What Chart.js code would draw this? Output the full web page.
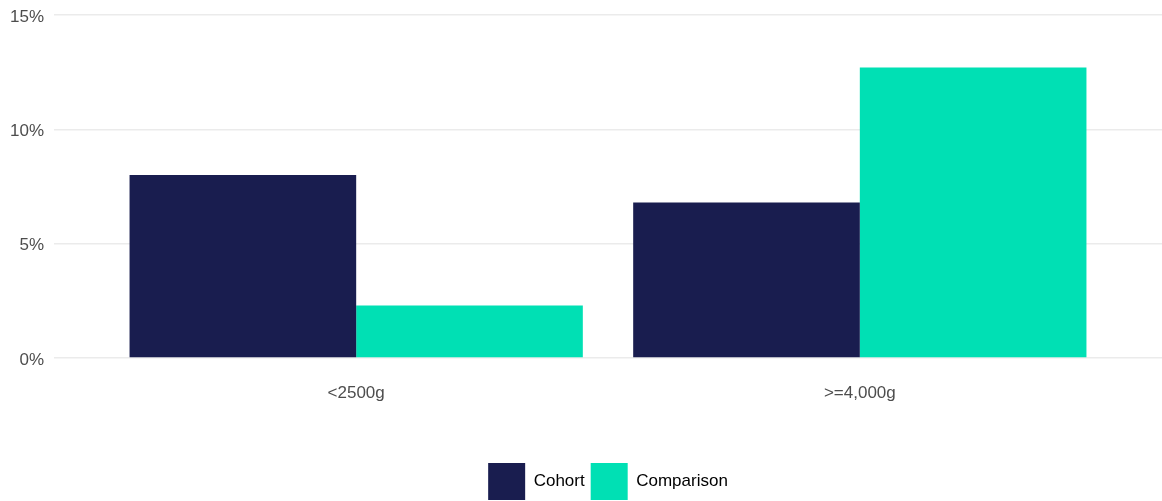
<!DOCTYPE html>
<html>
<head>
<meta charset="utf-8">
<script src="https://cdn.jsdelivr.net/npm/chart.js@4/dist/chart.umd.min.js"></script>
<style>
  html, body { margin: 0; padding: 0; background: #fff; }
  #wrap { width: 1162px; height: 501px; }
</style>
</head>
<body>
<div id="wrap"><canvas id="chart"></canvas></div>
<script>
const categories = ['<2500g', '>=4,000g'];
const cohortValues = [8.0, 6.8];
const comparisonValues = [2.3, 12.7];
const yTicks = [0, 5, 10, 15];

// categories sit at x = 1, 2 on a linear axis so the panel can have ggplot-like side space
const toPoints = (vals) => vals.map((v, i) => ({ x: i + 1, y: v }));

const tickFont = { family: "'Liberation Sans', Arial, sans-serif", size: 17 };

var ctx = document.getElementById('chart').getContext('2d');
var chart = new Chart(ctx, {
    type: 'bar',
    data: {
        datasets: [{
            label: 'Cohort',
            backgroundColor: '#191d4f',
            data: toPoints(cohortValues),
        }, {
            label: 'Comparison',
            backgroundColor: '#00e0b4',
            data: toPoints(comparisonValues),
        }]
    },
    options: {
        responsive: true,
        maintainAspectRatio: false,
        animation: false,
        categoryPercentage: 0.9,
        barPercentage: 1.0,
        layout: { padding: { top: 15, right: 0, left: 0, bottom: -9 } },
        scales: {
            x: {
                type: 'linear',
                offset: false,
                min: 0.4,
                max: 2.6,
                afterBuildTicks: (scale) => {
                    scale.ticks = categories.map((c, i) => ({ value: i + 1 }));
                },
                afterFit: (scale) => { scale.height = 99; },
                grid: { display: false, drawTicks: false, offset: false },
                border: { display: false },
                ticks: {
                    padding: 25,
                    color: '#4d4d4d',
                    font: tickFont,
                    callback: (v) => categories[v - 1] || '',
                }
            },
            y: {
                min: 0,
                max: 15,
                afterBuildTicks: (scale) => {
                    scale.ticks = yTicks.map(v => ({ value: v }));
                },
                afterFit: (scale) => {
                    scale.width = 54;
                    scale.paddingTop = 0;
                    scale.paddingBottom = 0;
                },
                grid: { color: '#ebebeb', lineWidth: 1.5, drawTicks: false },
                border: { display: false },
                ticks: {
                    padding: 10,
                    labelOffset: 2,
                    color: '#4d4d4d',
                    font: tickFont,
                    callback: (v) => v + '%',
                }
            }
        },
        plugins: {
            tooltip: { enabled: false },
            legend: {
                position: 'bottom',
                fullSize: false,
                labels: {
                    boxWidth: 37,
                    boxHeight: 37,
                    padding: 6,
                    color: '#000',
                    font: { family: "'Liberation Sans', Arial, sans-serif", size: 17 },
                }
            }
        }
    }
});
</script>
</body>
</html>
